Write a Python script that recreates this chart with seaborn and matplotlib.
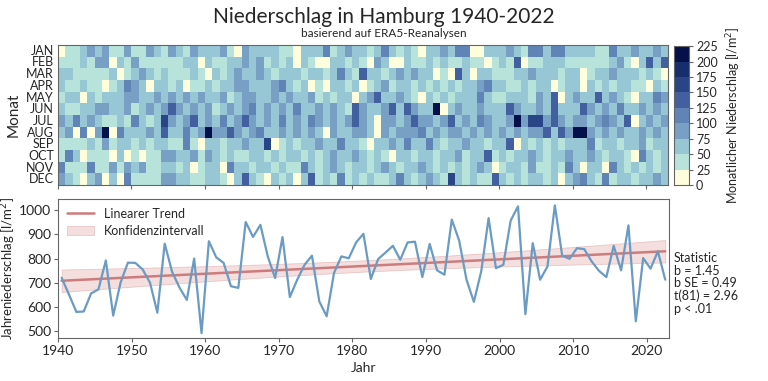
import numpy as np
import pandas as pd
import seaborn as sns
import matplotlib
matplotlib.use('Agg')
import matplotlib.pyplot as plt
from matplotlib.colors import ListedColormap

years = np.arange(1940, 2023)
months = ["JAN", "FEB", "MAR", "APR", "MAY", "JUN", "JUL", "AUG", "SEP", "OCT", "NOV", "DEC"]

# annual precipitation [l/m2], 1940-2022
annual = [720, 650, 578, 580, 655, 672, 792, 563, 700, 783,
          782, 755, 700, 575, 862, 745, 680, 628, 800, 490,
          872, 805, 782, 685, 678, 952, 890, 940, 809, 719,
          889, 640, 712, 774, 812, 622, 560, 740, 809, 801,
          867, 903, 715, 798, 825, 853, 795, 867, 870, 723,
          861, 751, 733, 962, 875, 712, 620, 747, 968, 760,
          774, 958, 1017, 569, 864, 712, 767, 1021, 812, 799,
          843, 839, 788, 749, 723, 853, 751, 938, 539, 802,
          758, 830, 712]

# monthly precipitation as 25 l/m2 bands (0 = 0-25, ..., 8 = 200-225), one digit per year 1940-2022
jan = "0112323113" "1132132132" "2231032222" "1102224123" "2212421210" "2232440022" "2321442442" "2221142232" "232"
feb = "1112133021" "3111111220" "2112232312" "1202100221" "2103200211" "2121121101" "2150112221" "1111123102" "525"
mar = "2211111201" "2321211121" "0212322321" "2221221242" "1522123232" "2010520221" "1122322212" "2012232221" "210"
apr = "2112110124" "3202212011" "2122332223" "4212010221" "2012312212" "1212122342" "2112122012" "2021212211" "021"
may = "1220212223" "3223232323" "2231233223" "2322312122" "0235223210" "2121222421" "1222132502" "3225232102" "243"
jun = "2112233223" "1232353232" "3123234232" "3242232321" "5322352532" "2802322322" "2532232522" "2532324223" "232"
jul = "3242321121" "4212632352" "3242353232" "4232432323" "5320332353" "3235232432" "2383663532" "3323432502" "323"
aug = "2304038042" "2232522423" "8335323422" "3232320322" "3320323334" "2323323232" "3232335253" "8832323223" "232"
sep = "1111213122" "1212211410" "2212232260" "1212232242" "2102232422" "4212232212" "2502121212" "2241221223" "122"
oct = "1420111020" "1011332231" "3212112212" "1221212322" "3212102212" "2122312251" "2122321223" "2232122104" "212"
nov = "4111411313" "2311221201" "2204221221" "2114212321" "2212321223" "2121212320" "1221311214" "2022042121" "212"
dec = "3210230204" "1111332211" "2210252102" "1202512141" "2121124212" "3216212115" "2121221202" "3421412212" "232"

band_colors = ["#fffedc", "#b7e3da", "#97c6d4", "#789fc4", "#5f84b5",
               "#42609f", "#2a4587", "#162d6e", "#05104a"]

rows = [jan, feb, mar, apr, may, jun, jul, aug, sep, oct, nov, dec]
monthly = pd.DataFrame([[int(c) * 25 + 12.5 for c in r] for r in rows],
                       index=months, columns=years)

sns.set_style("ticks")
plt.rcParams['font.family'] = ['Lato', 'DejaVu Sans']
edge = "#666666"

fig = plt.figure(figsize=(7.68, 3.81), dpi=100)
ax_hm = fig.add_axes([0.0755, 0.514, 0.7945, 0.368])
cax = fig.add_axes([0.8776, 0.514, 0.0195, 0.365])
ax_ln = fig.add_axes([0.0755, 0.113, 0.7955, 0.365])

sns.heatmap(monthly, ax=ax_hm, cmap=ListedColormap(band_colors), vmin=0, vmax=225,
            cbar_ax=cax, xticklabels=False, yticklabels=months)
ax_hm.set_xticks(np.arange(0, 83, 10))
ax_hm.tick_params(axis='x', length=3, color=edge)
ax_hm.tick_params(axis='y', length=0, labelsize=9, pad=3)
ax_hm.set_yticklabels(months, rotation=0)
ax_hm.set_xlabel("")
ax_hm.set_ylabel("Monat", fontsize=11, labelpad=4)
for s in ax_hm.spines.values():
    s.set_visible(True)
    s.set_color(edge)
    s.set_linewidth(0.8)

cax.set_yticks(np.arange(0, 226, 25))
cax.tick_params(labelsize=9, length=3, color=edge, pad=2)
for s in cax.spines.values():
    s.set_visible(True)
    s.set_color(edge)
cax.set_ylabel("Monatlicher Niederschlag [l/m$^2$]", fontsize=9, labelpad=5)

# trend line and 95% confidence band
x = years + 0.5
b, a = np.polyfit(years, annual, 1)
fit = a + b * years
resid = np.array(annual) - fit
n = len(years)
s_err = np.sqrt(np.sum(resid ** 2) / (n - 2))
sxx = np.sum((years - years.mean()) ** 2)
half = 1.99 * s_err * np.sqrt(1 / n + (years - years.mean()) ** 2 / sxx)

ax_ln.fill_between(x, fit - half, fit + half, color="#f0d0d0", alpha=0.7,
                   edgecolor="#e4b4b4", linewidth=0.6, label="Konfidenzintervall")
sns.lineplot(x=x, y=fit, ax=ax_ln, color="#cc7c7c", lw=1.8, label="Linearer Trend")
sns.lineplot(x=x, y=annual, ax=ax_ln, color="#6a9bc3", lw=1.6)

ax_ln.set_xlim(1940, 2023)
ax_ln.set_ylim(470, 1048)
ax_ln.set_xticks(np.arange(1940, 2021, 10))
ax_ln.set_yticks(np.arange(500, 1001, 100))
ax_ln.tick_params(labelsize=10, length=3, color=edge, pad=2)
ax_ln.set_xlabel("Jahr", fontsize=10, labelpad=4)
ax_ln.set_ylabel("Jahreniederschlag [l/m$^2$]", fontsize=9.5, labelpad=1)
for s in ax_ln.spines.values():
    s.set_color(edge)
    s.set_linewidth(0.8)

h, l = ax_ln.get_legend_handles_labels()
ax_ln.legend([h[l.index("Linearer Trend")], h[l.index("Konfidenzintervall")]],
             ["Linearer Trend", "Konfidenzintervall"], loc="upper left",
             frameon=False, fontsize=9, handlelength=2.2, borderaxespad=0.3,
             labelspacing=0.4)

fig.text(0.877, 0.338, "Statistic\nb = 1.45\nb SE = 0.49\nt(81) = 2.96\np < .01",
         fontsize=9, va="top", ha="left", linespacing=1.05)

fig.text(0.5, 0.955, "Niederschlag in Hamburg 1940-2022", ha="center", va="center", fontsize=15)
fig.text(0.5, 0.912, "basierend auf ERA5-Reanalysen", ha="center", va="center", fontsize=8.5)

fig.savefig("out.png", dpi=100)
